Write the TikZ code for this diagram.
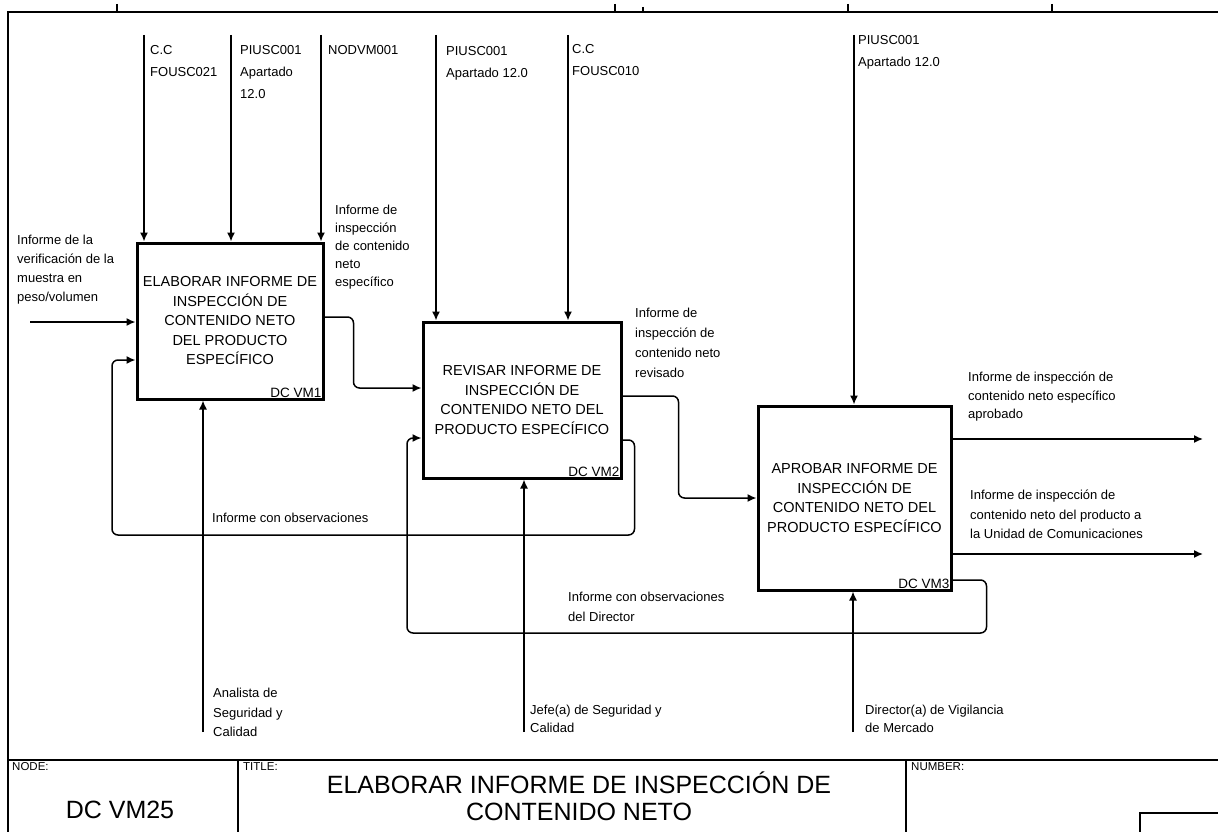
\documentclass[tikz,border=0pt]{standalone}
\usepackage{fontspec}
\setmainfont{Liberation Sans}
\usetikzlibrary{arrows.meta}
\begin{document}
\begin{tikzpicture}[x=1pt,y=-1pt,
  frame/.style={line width=1.5pt},
  act/.style={draw,line width=3pt,align=center,inner sep=0pt,font=\fontsize{14.5}{19.5}\selectfont},
  arr/.style={line width=1.5pt,-{Latex[length=9pt,width=8pt]}},
  fb/.style={arr,rounded corners=6pt},
  lbl/.style={anchor=north west,inner sep=0pt,align=left,font=\fontsize{13}{19}\selectfont},
  code/.style={anchor=south east,inner sep=3pt,font=\fontsize{13.5}{15}\selectfont},
  small/.style={anchor=west,inner sep=0pt,font=\fontsize{11.5}{13}\selectfont}]
\useasboundingbox (0,0) rectangle (1218,832);
% frame
\draw[frame] (1218,12) -- (8,12) -- (8,832);
\draw[frame] (8,760) -- (1218,760);
\draw[frame] (238,760) -- (238,832);
\draw[frame] (906,760) -- (906,832);
\draw[frame] (1140,832) -- (1140,813) -- (1218,813);
\foreach \tx in {117,615,848,1052} \draw[frame] (\tx,4) -- (\tx,12);
\draw[frame] (643,7) -- (643,12);
% activity boxes
\node[act,minimum width=186pt,minimum height=156pt] (b1) at (230,321)
  {ELABORAR INFORME DE\\INSPECCIÓN DE\\CONTENIDO NETO\\DEL PRODUCTO\\ESPECÍFICO};
\node[act,minimum width=198pt,minimum height=156pt] (b2) at (522,400)
  {REVISAR INFORME DE\\INSPECCIÓN DE\\CONTENIDO NETO DEL\\PRODUCTO ESPECÍFICO};
\node[act,minimum width=193pt,minimum height=184pt] (b3) at (854.5,498)
  {APROBAR INFORME DE\\INSPECCIÓN DE\\CONTENIDO NETO DEL\\PRODUCTO ESPECÍFICO};
\node[code] (k1) at (b1.south east) {DC VM1};
\node[code] (k2) at (b2.south east) {DC VM2};
\node[code] (k3) at (b3.south east) {DC VM3};
% controls
\coordinate (c1a) at (144,35);
\coordinate (c1b) at (231,35);
\coordinate (c1c) at (321,35);
\coordinate (c2a) at (436,35);
\coordinate (c2b) at (568,35);
\coordinate (c3a) at (854,35);
\draw[arr] (c1a) -- (c1a |- b1.north);
\draw[arr] (c1b) -- (c1b |- b1.north);
\draw[arr] (c1c) -- (c1c |- b1.north);
\draw[arr] (c2a) -- (c2a |- b2.north);
\draw[arr] (c2b) -- (c2b |- b2.north);
\draw[arr] (c3a) -- (c3a |- b3.north);
\node[lbl,font=\fontsize{13}{22}\selectfont] (t1a) at (150,45) {C.C\\FOUSC021};
\node[lbl,font=\fontsize{13}{22}\selectfont] (t1b) at (240,45) {PIUSC001\\Apartado\\12.0};
\node[lbl,font=\fontsize{13}{22}\selectfont] (t1c) at (328,45) {NODVM001};
\node[lbl,font=\fontsize{13}{22}\selectfont] (t2a) at (446,46) {PIUSC001\\Apartado 12.0};
\node[lbl,font=\fontsize{13}{22}\selectfont] (t2b) at (572,44) {C.C\\FOUSC010};
\node[lbl,font=\fontsize{13}{22}\selectfont] (t3a) at (858,35) {PIUSC001\\Apartado 12.0};
% input
\coordinate (in1) at (30,322);
\draw[arr] (in1) -- (in1 -| b1.west);
\node[lbl] (tin) at (17,235) {Informe de la\\verificación de la\\muestra en\\peso/volumen};
% box1 -> box2
\draw[fb] ([yshift=4pt]b1.east) -- ++(29,0) |- ([yshift=12pt]b2.west);
\node[lbl,font=\fontsize{13}{18}\selectfont] (to1) at (335,205) {Informe de\\inspección\\de contenido\\neto\\específico};
% box2 -> box3
\draw[fb] ([yshift=4pt]b2.east) -- ++(56,0) |- (b3.west);
\node[lbl,font=\fontsize{13}{20}\selectfont] (to2) at (635,308) {Informe de\\inspección de\\contenido neto\\revisado};
% outputs of box3
\coordinate (out1) at (1203,439);
\coordinate (out2) at (1203,554);
\draw[arr] (out1 -| b3.east) -- (out1);
\draw[arr] (out2 -| b3.east) -- (out2);
\node[lbl,font=\fontsize{13}{18.5}\selectfont] (to3) at (968,372) {Informe de inspección de\\contenido neto específico\\aprobado};
\node[lbl,font=\fontsize{13}{19.5}\selectfont] (to4) at (970,490) {Informe de inspección de\\contenido neto del producto a\\la Unidad de Comunicaciones};
% feedback box2 -> box1
\coordinate (fb1) at (112,535);
\draw[fb] ([yshift=-40pt]b2.east) -- ++(12,0) |- (fb1) |- ([yshift=-39pt]b1.west);
\node[lbl] (tfb1) at (212,513) {Informe con observaciones};
% feedback box3 -> box2
\coordinate (fb2) at (407,633);
\draw[fb] ([yshift=-82pt]b3.east) -- ++(34,0) |- (fb2) |- ([yshift=-38pt]b2.west);
\node[lbl,font=\fontsize{13}{20}\selectfont] (tfb2) at (568,592) {Informe con observaciones\\del Director};
% mechanisms
\coordinate (m1) at (203,732);
\coordinate (m2) at (524,732);
\coordinate (m3) at (853,732);
\draw[arr] (m1) -- (m1 |- b1.south);
\draw[arr] (m2) -- (m2 |- b2.south);
\draw[arr] (m3) -- (m3 |- b3.south);
\node[lbl,font=\fontsize{13}{19.5}\selectfont] (tm1) at (213,688) {Analista de\\Seguridad y\\Calidad};
\node[lbl,font=\fontsize{13}{18}\selectfont] (tm2) at (530,705) {Jefe(a) de Seguridad y\\Calidad};
\node[lbl,font=\fontsize{13}{18}\selectfont] (tm3) at (865,705) {Director(a) de Vigilancia\\de Mercado};
% footer
\node[small] (nodelbl) at (12,767) {NODE:};
\node[small] (titlelbl) at (243,767) {TITLE:};
\node[small] (numlbl) at (911,767) {NUMBER:};
\node[inner sep=0pt,font=\fontsize{25}{27}\selectfont] (nodeno) at (120,810) {DC VM25};
\node[inner sep=0pt,align=center,font=\fontsize{25}{27}\selectfont] (title) at (579,796) {ELABORAR INFORME DE INSPECCIÓN DE\\CONTENIDO NETO};
\end{tikzpicture}
\end{document}
